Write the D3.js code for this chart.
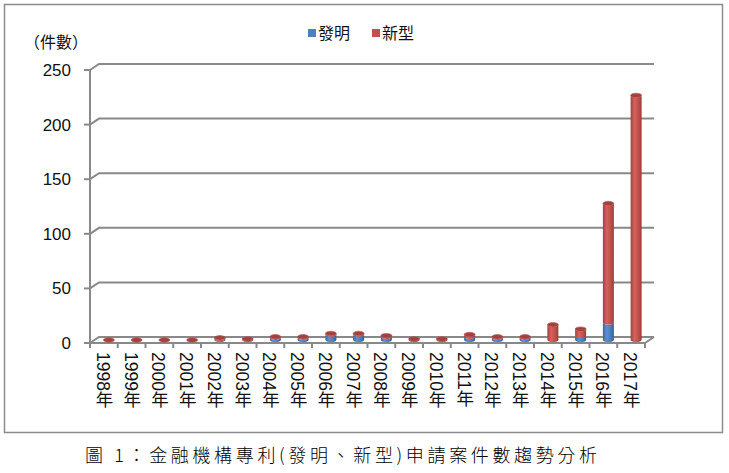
<!DOCTYPE html>
<html>
<head>
<meta charset="utf-8">
<script src="https://cdn.jsdelivr.net/npm/d3@7"></script>
<style>
  body { margin: 0; background: #fff; }
  svg { display: block; }
</style>
</head>
<body>
<svg id="chart" width="729" height="473"></svg>
<script>
const years = ["1998", "1999", "2000", "2001", "2002", "2003", "2004", "2005", "2006", "2007",
  "2008", "2009", "2010", "2011", "2012", "2013", "2014", "2015", "2016", "2017"];
const invention = [0, 0, 0, 0, 1, 0, 2, 2, 5, 5, 3, 0, 0, 3, 2, 2, 0, 4, 16, 0];
const utility = [0, 0, 0, 0, 1, 1, 1, 1, 1, 1, 1, 1, 1, 2, 1, 1, 14, 6, 109, 224];
const yTicks = [0, 50, 100, 150, 200, 250];
const seriesNames = ["發明", "新型"];

const svg = d3.select("#chart");
const depthX = 9, depthY = -6;

const x = d3.scaleBand().domain(years).range([90, 645]);
const y = d3.scaleLinear().domain([0, 250]).range([343, 70]);

// cylinder gradients
const defs = svg.append("defs");
const gradients = [
  { id: "g-blue", stops: ["#3a679f", "#5d90d2", "#4a7dbd", "#345f95"] },
  { id: "g-red", stops: ["#a63f3c", "#d4625e", "#c0504d", "#9e3b38"] },
];
gradients.forEach((g) => {
  const lg = defs.append("linearGradient").attr("id", g.id)
    .attr("x1", 0).attr("x2", 1).attr("y1", 0).attr("y2", 0);
  g.stops.forEach((c, i) => lg.append("stop")
    .attr("offset", [0, 0.35, 0.7, 1][i]).attr("stop-color", c));
});

// outer frame
svg.append("rect").attr("x", 4.5).attr("y", 4.5).attr("width", 718).attr("height", 428)
  .attr("fill", "none").attr("stroke", "#8c8c8c").attr("stroke-width", 1.5);

const grid = svg.append("g").attr("stroke", "#898989").attr("stroke-width", 2).attr("fill", "none");

// back-wall gridlines with side-wall diagonals
yTicks.forEach((v) => {
  const yy = y(v);
  grid.append("path")
    .attr("d", `M${x.range()[0]},${yy} L${x.range()[0] + depthX},${yy + depthY} L${x.range()[1] + depthX},${yy + depthY}`);
});

// floor front edge and right diagonal
grid.append("path")
  .attr("d", `M${x.range()[0]},${y(0)} L${x.range()[1]},${y(0)} L${x.range()[1] + depthX},${y(0) + depthY}`);

// vertical axis line
grid.append("line").attr("x1", 90).attr("x2", 90).attr("y1", y(250)).attr("y2", y(0) + 5);

// y ticks
yTicks.forEach((v) => {
  grid.append("line").attr("x1", 84).attr("x2", 90).attr("y1", y(v)).attr("y2", y(v));
});

// x ticks at band boundaries
years.forEach((yr) => {
  const bx = x(yr);
  grid.append("line").attr("x1", bx).attr("x2", bx).attr("y1", y(0)).attr("y2", y(0) + 5);
});
grid.append("line").attr("x1", x.range()[1]).attr("x2", x.range()[1])
  .attr("y1", y(0)).attr("y2", y(0) + 5);

// y labels
svg.append("g")
  .selectAll("text")
  .data(yTicks)
  .join("text")
  .attr("x", 71)
  .attr("y", (v) => y(v) + 6)
  .attr("text-anchor", "end")
  .attr("font-family", "Liberation Sans, Arial, sans-serif")
  .attr("font-size", 17)
  .attr("fill", "#111")
  .text((v) => v);

// x labels (vertical writing)
svg.append("g")
  .selectAll("text")
  .data(years)
  .join("text")
  .attr("x", (yr) => x(yr) + x.bandwidth() / 2 - 1)
  .attr("y", 352)
  .attr("font-family", "Liberation Sans, 'Noto Sans CJK TC', sans-serif")
  .attr("font-size", 17.5)
  .attr("fill", "#111")
  .style("writing-mode", "vertical-rl")
  .text((yr) => yr + "年");

// cylinders
const barW = 11, rx = barW / 2, ry = 2.2;
const bars = svg.append("g");
const stacks = years.map((yr, i) => {
  const cx = x(yr) + x.bandwidth() / 2 + 5;
  const segs = [];
  let base = 0;
  [invention[i], utility[i]].forEach((v, s) => {
    segs.push({ cx, y0: base, y1: base + v, s });
    base += v;
  });
  return { cx, segs, total: base };
});
const baseShift = -3;
stacks.forEach((st) => {
  st.segs.forEach((seg) => {
    if (seg.y1 === seg.y0) return;
    const top = y(seg.y1) + baseShift, bot = y(seg.y0) + baseShift;
    const l = seg.cx - rx, r = seg.cx + rx;
    bars.append("path")
      .attr("d", `M${l},${top} L${l},${bot} A${rx},${ry} 0 0 0 ${r},${bot} L${r},${top} A${rx},${ry} 0 0 1 ${l},${top} Z`)
      .attr("fill", seg.s === 0 ? "url(#g-blue)" : "url(#g-red)");
  });
  bars.append("ellipse")
    .attr("cx", st.cx)
    .attr("cy", y(st.total) + baseShift)
    .attr("rx", rx)
    .attr("ry", ry)
    .attr("fill", "#a5403d")
    .attr("stroke", "#b9504c")
    .attr("stroke-width", 0.6);
});

// legend
const legend = svg.append("g").attr("font-family", "'Noto Sans CJK TC', sans-serif").attr("font-size", 16);
const legendItems = [
  { x: 308, color: "#4f81bd" },
  { x: 372, color: "#c0504d" },
];
legendItems.forEach((it, i) => {
  legend.append("rect").attr("x", it.x).attr("y", 29).attr("width", 8).attr("height", 8).attr("fill", it.color);
  legend.append("text").attr("x", it.x + 10).attr("y", 39).attr("fill", "#111").text(seriesNames[i]);
});

// unit label
svg.append("text")
  .attr("x", 24).attr("y", 48)
  .attr("font-family", "'Noto Sans CJK TC', sans-serif")
  .attr("font-size", 16)
  .attr("fill", "#111")
  .text("（件數）");

// caption
svg.append("text")
  .attr("x", 85).attr("y", 462)
  .attr("font-family", "'Noto Sans CJK TC', sans-serif")
  .attr("font-size", 18)
  .attr("font-weight", 300)
  .attr("fill", "#000")
  .attr("textLength", 512)
  .attr("lengthAdjust", "spacing")
  .text("圖 1：金融機構專利(發明、新型)申請案件數趨勢分析");
</script>
</body>
</html>
